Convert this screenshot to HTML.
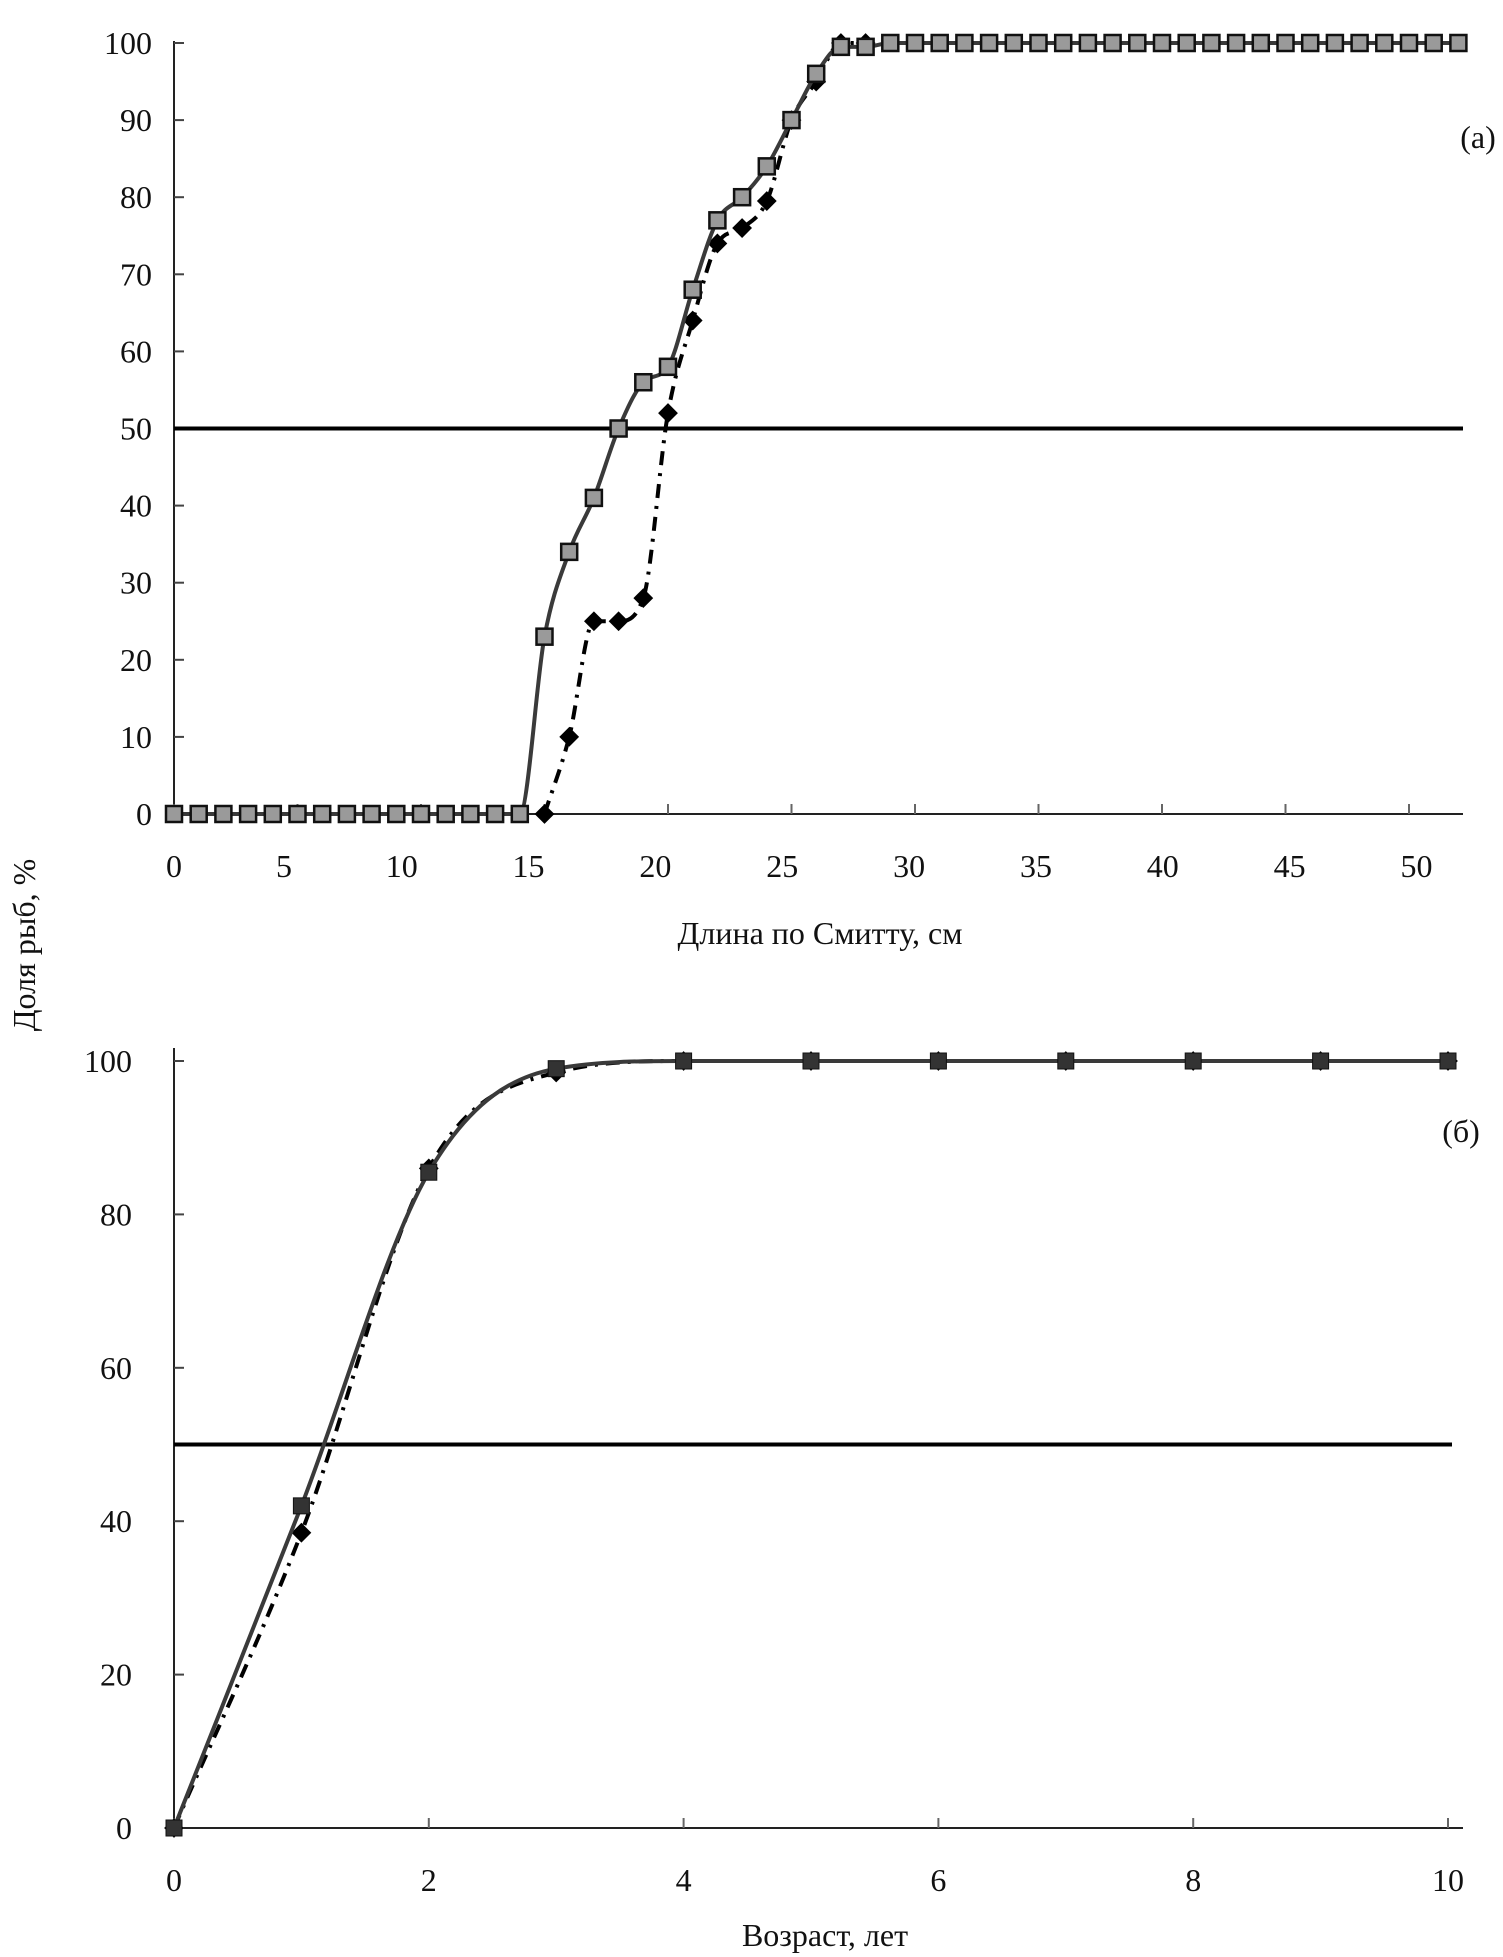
<!DOCTYPE html>
<html><head><meta charset="utf-8"><style>
html,body{margin:0;padding:0;background:#fff;}
svg{display:block;}
text{font-family:"Liberation Serif",serif;fill:#111;}
</style></head><body>
<svg id="svg" width="1503" height="1957" viewBox="0 0 1503 1957" xmlns="http://www.w3.org/2000/svg">
<text x="35" y="945" font-size="32" text-anchor="middle" transform="rotate(-90 35 945)">Доля рыб, %</text>
<text x="1478" y="148" font-size="32" text-anchor="middle">(a)</text>
<text x="1461" y="1142" font-size="32" text-anchor="middle">(б)</text>
<text x="820" y="944" font-size="32" text-anchor="middle">Длина по Смитту, см</text>
<text x="825" y="1946" font-size="32" text-anchor="middle">Возраст, лет</text>
<g id="top"></g><g id="bot"></g>
</svg>
<script>
const topX = [];for(let i=0;i<=52;i++) topX.push(i);
const topSquares = [0,0,0,0,0,0,0,0,0,0,0,0,0,0,0,23,34,41,50,56,58,68,77,80,84,90,96,99.5,99.5,100,100,100,100,100,100,100,100,100,100,100,100,100,100,100,100,100,100,100,100,100,100,100,100];
const topDiamX = [15,16,17,18,19,20,21,22,23,24,25,26,27,28];
const topDiamonds = [0,10,25,25,28,52,64,74,76,79.5,90,95,100,100];
const topXTicks = [0,5,10,15,20,25,30,35,40,45,50];
const topYTicks = [0,10,20,30,40,50,60,70,80,90,100];
const botX = [0,1,2,3,4,5,6,7,8,9,10];
const botSquares = [0,42,85.5,99,100,100,100,100,100,100,100];
const botDiamonds = [0,38.5,86,98.5,100,100,100,100,100,100,100];
const botXTicks = [0,2,4,6,8,10];
const botYTicks = [0,20,40,60,80,100];
const threshold = 50;
const NS="http://www.w3.org/2000/svg";
function mk(parent,tag,attrs){const e=document.createElementNS(NS,tag);for(const k in attrs)e.setAttribute(k,attrs[k]);parent.appendChild(e);return e;}
function smooth(pts){
  const n=pts.length,d=[],m=[];
  for(let i=0;i<n-1;i++)d.push((pts[i+1][1]-pts[i][1])/(pts[i+1][0]-pts[i][0]));
  for(let i=0;i<n;i++){
    if(i==0)m.push(d[0]);else if(i==n-1)m.push(d[n-2]);
    else m.push(d[i-1]*d[i]<=0?0:(d[i-1]+d[i])/2);
  }
  for(let i=0;i<n-1;i++){if(d[i]==0){m[i]=0;m[i+1]=0;}else{const a=m[i]/d[i],b=m[i+1]/d[i],s=a*a+b*b;if(s>9){const t=3/Math.sqrt(s);m[i]=t*a*d[i];m[i+1]=t*b*d[i];}}}
  let p="M"+pts[0][0]+","+pts[0][1];
  for(let i=0;i<n-1;i++){const h=(pts[i+1][0]-pts[i][0])/3;
    p+=" C"+(pts[i][0]+h)+","+(pts[i][1]+m[i]*h)+" "+(pts[i+1][0]-h)+","+(pts[i+1][1]-m[i+1]*h)+" "+pts[i+1][0]+","+pts[i+1][1];}
  return p;
}
function panel(g,cfg){
  const sx=v=>cfg.x0+(v-cfg.xmin)*(cfg.x1-cfg.x0)/(cfg.xmax-cfg.xmin);
  const sy=v=>cfg.y0+(v)*(cfg.y1-cfg.y0)/100;
  const lxf=cfg.labelX||sx;
  let e;
  e=mk(g,"line",{x1:cfg.x0,y1:cfg.top,x2:cfg.x0,y2:cfg.y0,stroke:"#222","stroke-width":2});
  
  e=mk(g,"line",{x1:cfg.x0,y1:cfg.y0,x2:cfg.end,y2:cfg.y0,stroke:"#222","stroke-width":2});
  
  cfg.xt.forEach(v=>{
    e=mk(g,"line",{x1:sx(v),y1:cfg.y0,x2:sx(v),y2:cfg.y0-10,stroke:"#666","stroke-width":2});
    
    e=mk(g,"text",{x:lxf(v),y:cfg.y0+63,"font-size":32,"text-anchor":"middle"});e.textContent=v;
    
  });
  cfg.yt.forEach(v=>{
    e=mk(g,"line",{x1:cfg.x0,y1:sy(v),x2:cfg.x0+10,y2:sy(v),stroke:"#444","stroke-width":2});
    
    e=mk(g,"text",{x:cfg.lx,y:sy(v)+11,"font-size":32,"text-anchor":"end"});e.textContent=v;
    
  });
  e=mk(g,"line",{x1:cfg.x0,y1:sy(threshold),x2:cfg.hend,y2:sy(threshold),stroke:"#000","stroke-width":4});
  
  const dp=cfg.dx.map((v,i)=>[sx(v),sy(cfg.dv[i])]);
  e=mk(g,"path",{d:smooth(dp),fill:"none",stroke:"#000","stroke-width":4,"stroke-dasharray":"14 8 3 8"});
  
  dp.forEach(p=>{e=mk(g,"rect",{x:p[0]-7,y:p[1]-7,width:14,height:14,fill:"#000",transform:"rotate(45 "+p[0]+" "+p[1]+")"});
    });
  const sp=cfg.sxv.map((v,i)=>[sx(v),sy(cfg.sv[i])]);
  e=mk(g,"path",{d:smooth(sp),fill:"none",stroke:"#3a3a3a","stroke-width":4});
  
  sp.forEach(p=>{e=mk(g,"rect",{x:p[0]-8,y:p[1]-8,width:16,height:16,fill:cfg.fill,stroke:"#111","stroke-width":cfg.sw});
    });
}
panel(document.getElementById('top'),{x0:174,x1:1409,xmin:0,xmax:50,y0:814,y1:43,top:41,end:1463,hend:1463,lx:152,
  labelX:v=>v<10?174+v*22:148+v*25.37,
  xt:topXTicks,yt:topYTicks,sxv:topX,sv:topSquares,dx:topDiamX,dv:topDiamonds,fill:"#9a9a9a",sw:2.5});
panel(document.getElementById('bot'),{x0:174,x1:1448,xmin:0,xmax:10,y0:1828,y1:1061,top:1048,end:1463,hend:1452,lx:132,
  xt:botXTicks,yt:botYTicks,sxv:botX,sv:botSquares,dx:botX,dv:botDiamonds,fill:"#333",sw:1});
</script>
</body></html>
